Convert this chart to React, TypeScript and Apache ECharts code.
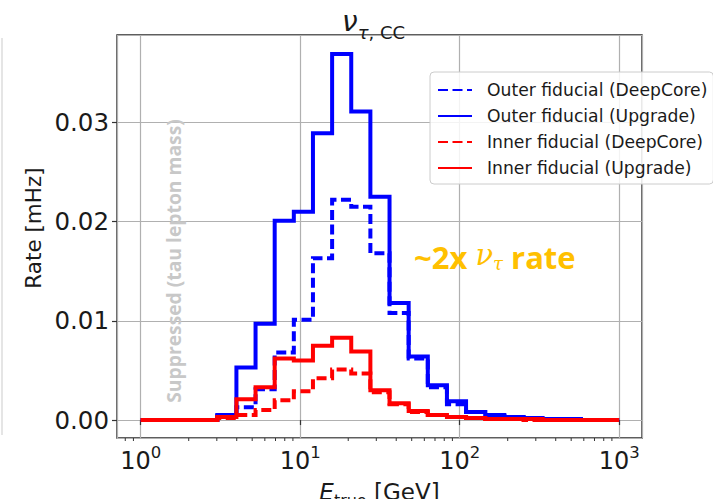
import React, { useEffect, useRef } from "react";
import * as echarts from "echarts";

// Bin edges (log-spaced, GeV) of the histograms
const BIN_EDGES = [
  1, 1.318, 1.738, 2.291, 3.02, 3.981, 5.248, 6.918, 9.12, 12.02, 15.85, 20.89,
  27.54, 36.31, 47.86, 63.1, 83.18, 109.6, 144.5, 190.5, 251.2, 331.1, 436.5,
  575.4, 758.6, 1000,
];

// Rates per bin [mHz]
const OUTER_DEEPCORE = [
  0, 0, 0, 0, 0.0004, 0.0013, 0.0031, 0.0068, 0.0101, 0.0163, 0.0222, 0.0215,
  0.0168, 0.0108, 0.0062, 0.0033, 0.0016, 0.0008, 0.0004, 0.0003, 0.0002,
  0.0001, 0.0001, 0, 0,
];
const OUTER_UPGRADE = [
  0, 0, 0, 0, 0.0005, 0.0053, 0.0097, 0.0201, 0.021, 0.0289, 0.0369, 0.0311,
  0.0225, 0.0118, 0.0064, 0.0035, 0.0019, 0.0008, 0.0005, 0.0003, 0.0002,
  0.0001, 0.0001, 0, 0,
];
const INNER_DEEPCORE = [
  0, 0, 0, 0, 0.0002, 0.0005, 0.001, 0.002, 0.0029, 0.0042, 0.0051, 0.0047,
  0.0028, 0.0016, 0.0008, 0.0005, 0.0003, 0.0002, 0.0001, 0.0001, 0, 0, 0, 0,
  0,
];
const INNER_UPGRADE = [
  0, 0, 0, 0, 0.0003, 0.0021, 0.0033, 0.0062, 0.006, 0.0075, 0.0083, 0.0069,
  0.003, 0.0017, 0.0009, 0.0005, 0.0003, 0.0002, 0.0001, 0.0001, 0.0001, 0, 0,
  0, 0,
];

const SERIES_NAMES = [
  "Outer fiducial (DeepCore)",
  "Outer fiducial (Upgrade)",
  "Inner fiducial (DeepCore)",
  "Inner fiducial (Upgrade)",
];

const MINOR_TICKS = [
  0.8, 0.9, 2, 3, 4, 5, 6, 7, 8, 9, 20, 30, 40, 50, 60, 70, 80, 90, 200, 300,
  400, 500, 600, 700, 800, 900,
];

const X_MIN = 0.71;
const X_MAX = 1390;
const Y_MIN = -0.00181;
const Y_MAX = 0.03881;

const FONT = "DejaVu Sans";
const INK = "#1a1a1a";

function stepData(vals: number[]) {
  return BIN_EDGES.map((e, i) => [e, vals[Math.min(i, vals.length - 1)]]);
}

export default function App() {
  const ref = useRef<HTMLDivElement>(null);

  useEffect(() => {
    if (!ref.current) return;
    const chart = echarts.init(ref.current, null, { renderer: "svg" });

    const mkLine = (name: string, vals: number[], color: string, dashed: boolean, z: number) => ({
      name,
      type: "line",
      step: "end",
      data: stepData(vals),
      symbol: "none",
      showSymbol: false,
      z,
      lineStyle: {
        color,
        width: 4,
        type: dashed ? [10, 4.5] : "solid",
        cap: "butt",
        join: "miter",
      },
      itemStyle: { color },
    });

    const option: any = {
      animation: false,
      backgroundColor: "#ffffff",
      textStyle: { fontFamily: FONT },
      title: {
        text: "{n|ν}{t|τ}{c|, CC}",
        left: 337,
        top: 6,
        textStyle: {
          fontWeight: "normal",
          rich: {
            n: { fontFamily: FONT, fontSize: 28, fontStyle: "italic", fontWeight: "normal", color: INK, verticalAlign: "bottom", lineHeight: 30, padding: [0, 0, 6, 0] },
            t: { fontFamily: FONT, fontSize: 18, fontStyle: "italic", fontWeight: "normal", color: INK, verticalAlign: "bottom", lineHeight: 20 },
            c: { fontFamily: FONT, fontSize: 18, fontWeight: "normal", color: INK, verticalAlign: "bottom", lineHeight: 20 },
          },
        },
      },
      grid: {
        left: 117,
        right: 71,
        top: 35,
        bottom: 61,
        show: true,
        outerBoundsMode: "none",
        containLabel: false,
        borderColor: "#2a2a2a",
        borderWidth: 1.4,
        backgroundColor: "transparent",
      },
      legend: {
        orient: "vertical",
        left: 430,
        top: 72,
        data: SERIES_NAMES,
        itemWidth: 34,
        itemHeight: 14,
        itemGap: 6,
        padding: [8, 6, 6, 7],
        borderColor: "#cccccc",
        borderWidth: 1,
        borderRadius: 4,
        backgroundColor: "rgba(255,255,255,0.85)",
        itemStyle: { opacity: 0, borderWidth: 0 },
        textStyle: {
          fontFamily: FONT,
          fontSize: 17.2,
          color: INK,
          lineHeight: 20,
          padding: [0, 0, 0, 10],
        },
      },
      xAxis: {
        type: "log",
        logBase: 10,
        min: X_MIN,
        max: X_MAX,
        name: "{e|E}{s|true}{g| [GeV]}",
        nameLocation: "middle",
        nameGap: 43,
        nameTextStyle: {
          rich: {
            e: { fontFamily: FONT, fontSize: 23, fontStyle: "italic", color: INK, verticalAlign: "bottom", lineHeight: 27, padding: [0, 0, 5, 0] },
            s: { fontFamily: FONT, fontSize: 16, color: INK, verticalAlign: "bottom", lineHeight: 19 },
            g: { fontFamily: FONT, fontSize: 23, color: INK, verticalAlign: "bottom", lineHeight: 27, padding: [0, 0, 5, 0] },
          },
        },
        axisLine: { show: false },
        axisTick: { show: true, length: 5, lineStyle: { color: "#333", width: 1.2 } },
        splitLine: { show: true, lineStyle: { color: "#b0b0b0", width: 1.2 } },
        minorTick: { show: false },
        axisLabel: {
          showMinLabel: false,
          showMaxLabel: false,
          margin: 8,
          formatter: (v: number) => {
            const e = Math.round(Math.log10(v));
            return `{b|10}{s|${e}}`;
          },
          rich: {
            b: { fontFamily: FONT, fontSize: 24, color: INK, verticalAlign: "bottom", lineHeight: 27 },
            s: { fontFamily: FONT, fontSize: 16.5, color: INK, verticalAlign: "bottom", lineHeight: 19, padding: [0, 0, 12, 0] },
          },
        },
      },
      yAxis: {
        type: "value",
        min: Y_MIN,
        max: Y_MAX,
        splitNumber: 5,
        axisLine: { show: false },
        axisTick: { show: true, length: 5, lineStyle: { color: "#333", width: 1.2 } },
        splitLine: { show: true, lineStyle: { color: "#b0b0b0", width: 1.2 } },
        axisLabel: {
          showMinLabel: false,
          showMaxLabel: false,
          margin: 8,
          fontFamily: FONT,
          fontSize: 24.5,
          color: INK,
          formatter: (v: number) => v.toFixed(2),
        },
      },
      graphic: [
        {
          type: "line",
          shape: { x1: 2, y1: 38, x2: 2, y2: 435 },
          style: { stroke: "#dddddd", lineWidth: 1.5 },
          silent: true,
        },
        {
          type: "text",
          x: 33,
          y: 228,
          rotation: Math.PI / 2,
          style: {
            text: "Rate [mHz]",
            fontFamily: FONT,
            fontSize: 21.5,
            fill: INK,
            align: "center",
            verticalAlign: "middle",
          },
          silent: true,
        },
        {
          type: "text",
          x: 173,
          y: 261,
          rotation: Math.PI / 2,
          style: {
            text: "Suppressed (tau lepton mass)",
            fontFamily: "Open Sans",
            fontWeight: "bold",
            fontSize: 19.3,
            fill: "#c8c8c8",
            align: "center",
            verticalAlign: "middle",
          },
          z: 1,
          silent: true,
        },
        {
          type: "text",
          x: 414,
          y: 255,
          style: {
            text: "{a|~2x }{v|ν}{t|τ}{a| rate}",
            verticalAlign: "middle",
            rich: {
              a: { fontFamily: "Open Sans", fontWeight: "bold", fontSize: 31, fill: "#ffc000", verticalAlign: "bottom", lineHeight: 35 },
              v: { fontFamily: "DejaVu Serif", fontStyle: "italic", fontSize: 29, fill: "#ffc000", verticalAlign: "bottom", lineHeight: 35, padding: [0, 0, 3, 0] },
              t: { fontFamily: "DejaVu Serif", fontStyle: "italic", fontSize: 18, fill: "#ffc000", verticalAlign: "bottom", lineHeight: 25 },
            },
          },
          z: 10,
          silent: true,
        },
      ],
      series: [
        mkLine(SERIES_NAMES[0], OUTER_DEEPCORE, "#0000ff", true, 3),
        mkLine(SERIES_NAMES[1], OUTER_UPGRADE, "#0000ff", false, 4),
        mkLine(SERIES_NAMES[2], INNER_DEEPCORE, "#ff0000", true, 5),
        mkLine(SERIES_NAMES[3], INNER_UPGRADE, "#ff0000", false, 6),
        {
          type: "custom",
          silent: true,
          clip: false,
          z: 2,
          data: MINOR_TICKS.map((v) => [v, 0]),
          renderItem: (params: any, api: any) => {
            const x = api.coord([api.value(0), 0])[0];
            const cs = params.coordSys;
            const yb = cs.y + cs.height;
            return {
              type: "line",
              shape: { x1: x, y1: yb, x2: x, y2: yb + 3 },
              style: { stroke: "#333", lineWidth: 1 },
            };
          },
        },
      ],
    };

    chart.setOption(option);
    return () => chart.dispose();
  }, []);

  return (
    <div
      ref={ref}
      style={{ position: "fixed", left: 0, top: 0, width: 713, height: 499 }}
    />
  );
}
